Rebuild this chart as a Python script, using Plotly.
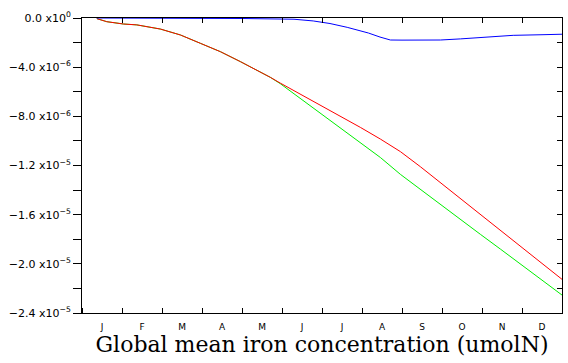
import plotly.graph_objects as go

# Months (fractional month index, 0 = start of January)
months = [0.37, 0.62, 1.04, 1.37, 1.96, 2.46, 2.96, 3.46, 3.96, 4.46, 4.71, 4.96,
          5.46, 5.96, 6.46, 6.96, 7.46, 7.96, 8.46, 8.96, 9.46, 9.96, 10.46, 10.96,
          11.46, 12.0]

# Values in units of 1e-6 umolN
green = [-0.05, -0.3, -0.49, -0.56, -0.9, -1.38, -2.06, -2.74, -3.55, -4.37, -4.83, -5.35,
         -6.55, -7.75, -8.9, -10.1, -11.35, -12.72, -13.95, -15.2, -16.4, -17.6, -18.8, -20.0,
         -21.25, -22.54]
red = [-0.05, -0.3, -0.49, -0.56, -0.9, -1.38, -2.06, -2.74, -3.55, -4.37, -4.83, -5.3,
       -6.2, -7.08, -8.0, -8.9, -9.85, -10.87, -12.1, -13.4, -14.7, -16.0, -17.3, -18.6,
       -19.9, -21.26]

blue_months = [0.37, 1.0, 2.0, 3.0, 4.0, 4.96, 5.3, 5.78, 6.2, 6.63, 7.16, 7.45, 7.71,
               8.0, 8.96, 9.46, 9.96, 10.5, 10.78, 11.5, 12.0]
blue = [0.0, -0.02, -0.03, -0.03, -0.04, -0.05, -0.1, -0.24, -0.45, -0.76, -1.22, -1.55,
        -1.79, -1.8, -1.79, -1.7, -1.6, -1.48, -1.41, -1.36, -1.32]

month_labels = ["J", "F", "M", "A", "M", "J", "J", "A", "S", "O", "N", "D"]
ytick_vals = [0, -2, -4, -6, -8, -10, -12, -14, -16, -18, -20, -22, -24]
ytick_text = ["0.0 x10<sup>0</sup>", "", "−4.0 x10<sup>−6</sup>", "", "−8.0 x10<sup>−6</sup>", "",
              "−1.2 x10<sup>−5</sup>", "", "−1.6 x10<sup>−5</sup>", "", "−2.0 x10<sup>−5</sup>", "",
              "−2.4 x10<sup>−5</sup>"]

scale = 1e-6
fig = go.Figure()
fig.add_trace(go.Scatter(x=months, y=[v * scale for v in green], mode="lines",
                         line=dict(color="#00ee00", width=1), showlegend=False))
fig.add_trace(go.Scatter(x=months, y=[v * scale for v in red], mode="lines",
                         line=dict(color="#ff0000", width=1), showlegend=False))
fig.add_trace(go.Scatter(x=blue_months, y=[v * scale for v in blue], mode="lines",
                         line=dict(color="#0000ff", width=1), showlegend=False))
fig.add_trace(go.Scatter(x=[], y=[], xaxis="x2", yaxis="y2", showlegend=False))

yvals = [v * scale for v in ytick_vals]
fig.update_layout(
    width=568, height=363,
    margin=dict(l=82, r=6, t=18, b=50),
    paper_bgcolor="white", plot_bgcolor="white",
    font=dict(family="DejaVu Sans", size=10, color="black"),
    xaxis=dict(range=[0, 12], tickvals=[i + 0.5 for i in range(12)], ticktext=month_labels,
               ticks="", showline=True, linecolor="black", linewidth=1, showgrid=False,
               zeroline=False, tickfont=dict(size=9), ticklabelstandoff=5,
               minor=dict(tick0=0, dtick=1, ticks="inside", ticklen=5, tickcolor="black"),
               title=dict(text="Global mean iron concentration (umolN)",
                          font=dict(family="DejaVu Serif", size=22), standoff=2)),
    xaxis2=dict(range=[0, 12], overlaying="x", side="top", anchor="y", tickvals=list(range(1, 12)),
                ticks="inside", ticklen=5, tickcolor="black", showticklabels=False,
                showline=True, linecolor="black", showgrid=False, zeroline=False),
    yaxis=dict(range=[-2.4e-5, 0], tickvals=yvals, ticktext=ytick_text, ticks="outside",
               ticklen=8, tickcolor="black", showline=True, linecolor="black", showgrid=False,
               zeroline=False, tickfont=dict(size=11)),
    yaxis2=dict(range=[-2.4e-5, 0], overlaying="y", side="right", anchor="x", tickvals=yvals,
                ticks="inside", ticklen=5, tickcolor="black", showticklabels=False,
                showline=True, linecolor="black", showgrid=False, zeroline=False),
)
fig.write_html("out.html")
